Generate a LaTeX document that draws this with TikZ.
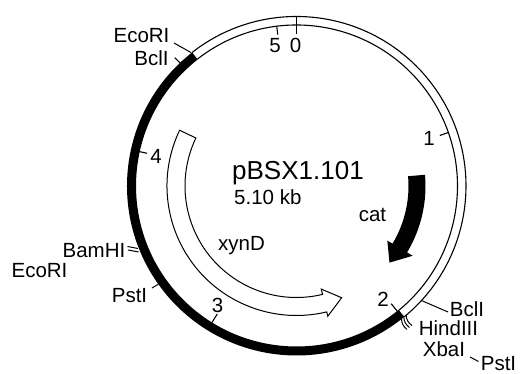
\documentclass[tikz,border=0pt]{standalone}
\usepackage{fontspec}
\setmainfont{Liberation Sans}
\begin{document}
\begin{tikzpicture}[x=1pt,y=1pt,
  lbl/.style={font=\fontsize{20.5}{22}\selectfont, inner sep=0pt},
  title/.style={font=\fontsize{26}{28}\selectfont, inner sep=0pt},
  ringline/.style={line width=1.1pt},
  tick/.style={line width=1.1pt},
  leader/.style={line width=1pt},
]
\useasboundingbox (-296.5,-188) rectangle (223.5,186);
% ---- ring: black (insert) part
\fill[black] (128:169.5pt) arc[start angle=128, end angle=309.5, radius=169.5pt]
  -- (309.5:160.5pt) arc[start angle=309.5, end angle=128, radius=160.5pt] -- cycle;
% ---- ring: white (vector) part
\draw[ringline] (128:169.5pt) arc[start angle=128, end angle=-50.5, radius=169.5pt];
\draw[ringline] (128:161pt) arc[start angle=128, end angle=-50.5, radius=161pt];

% ---- scale ticks
\coordinate (t0a) at (90:169.5pt);     \coordinate (t0b) at (90:152pt);
\coordinate (t5a) at (97.06:161pt);    \coordinate (t5b) at (97.06:152.5pt);
\coordinate (t1a) at (19.41:161pt);    \coordinate (t1b) at (19.41:152pt);
\coordinate (t2a) at (-51.18:161pt);   \coordinate (t2b) at (-51.18:151pt);
\coordinate (t3a) at (-121.76:160.5pt);\coordinate (t3b) at (-121.76:150.5pt);
\coordinate (t4a) at (167.65:160.5pt); \coordinate (t4b) at (167.65:153pt);
\draw[tick] (t0a) -- (t0b);
\draw[tick] (t5a) -- (t5b);
\draw[tick] (t1a) -- (t1b);
\draw[tick] (t2a) -- (t2b);
\draw[tick] (t3a) -- (t3b);
\draw[tick] (t4a) -- (t4b);

\node[lbl] (n0) at (-1,140.5) {0};
\node[lbl] (n5) at (-21.5,140.5) {5};
\node[lbl] (n1) at (132.5,48) {1};
\node[lbl] (n2) at (86.5,-113) {2};
\node[lbl] (n3) at (-79,-119.5) {3};
\node[lbl] (n4) at (-140.5,30) {4};

% ---- genes
\fill[black] (5:129pt) arc[start angle=5, end angle=-31, radius=129pt]
  -- (-31:135.5pt) -- (-39.5:120.5pt) -- (-31:106pt) -- (-31:112pt)
  arc[start angle=-31, end angle=5, radius=112pt] -- cycle;
\draw[line width=1pt, fill=white] (154.5:129.5pt) arc[start angle=154.5, end angle=283.5, radius=129.5pt]
  -- (283.5:134pt) -- (292:120.5pt) -- (283.5:106pt) -- (283.5:111.5pt)
  arc[start angle=283.5, end angle=154.5, radius=111.5pt] -- cycle;

\node[lbl, anchor=base] (cat) at (76,-36) {cat};
\node[lbl, anchor=base] (xyn) at (-55,-65) {xynD};
\node[title, anchor=base west] (name) at (-64.5,6) {pBSX1.101};
\node[lbl, anchor=base west] (size) at (-62.5,-19) {5.10 kb};

% ---- restriction sites
\node[lbl] (ecoT) at (-155,150) {EcoRI};
\node[lbl] (bclT) at (-145,127.5) {BclI};
\coordinate (ecoTa) at (-122.5,143);   \coordinate (ecoTb) at (128.3:170pt);
\coordinate (bclTa) at (133.5:177pt);  \coordinate (bclTb) at (133.4:169.5pt);
\draw[leader] (ecoTa) -- (ecoTb);
\draw[leader] (bclTa) -- (bclTb);

\node[lbl] (bam) at (-202.5,-64.5) {BamHI};
\node[lbl] (ecoL) at (-257,-84.5) {EcoRI};
\coordinate (bamA1) at (-169,-60.5);   \coordinate (bamB1) at (-158.5,-62.5);
\coordinate (bamA2) at (-168.5,-64);   \coordinate (bamB2) at (-158,-66);
\draw[leader] (bamA1) -- (bamB1);
\draw[leader] (bamA2) -- (bamB2);

\node[lbl] (pstL) at (-167,-109.5) {PstI};
\coordinate (pstLa) at (-144.5,-102);  \coordinate (pstLb) at (215.4:169.5pt);
\draw[leader] (pstLa) -- (pstLb);

\node[lbl] (bclR) at (170.5,-123.5) {BclI};
\coordinate (bclRa) at (-42.5:169.5pt); \coordinate (bclRb) at (151.5,-126);
\draw[leader] (bclRa) -- (bclRb);

\node[lbl] (hind) at (152,-142) {HindIII};
\coordinate (h1a) at (-49.6:169pt); \coordinate (h1b) at (-50.4:181pt);
\coordinate (h2a) at (-50.6:169pt); \coordinate (h2b) at (-51.4:181pt);
\coordinate (h3a) at (-51.6:169pt); \coordinate (h3b) at (-52.4:181pt);
\draw[leader] (h1a) to[bend right=25] (h1b);
\draw[leader] (h2a) to[bend right=25] (h2b);
\draw[leader] (h3a) to[bend right=25] (h3b);

\node[lbl] (xba) at (147.5,-163.5) {XbaI};
\node[lbl] (pstR) at (202,-178) {PstI};
\coordinate (pstRa) at (173.5,-171); \coordinate (pstRb) at (182,-175.5);
\draw[leader] (pstRa) -- (pstRb);
\end{tikzpicture}
\end{document}
